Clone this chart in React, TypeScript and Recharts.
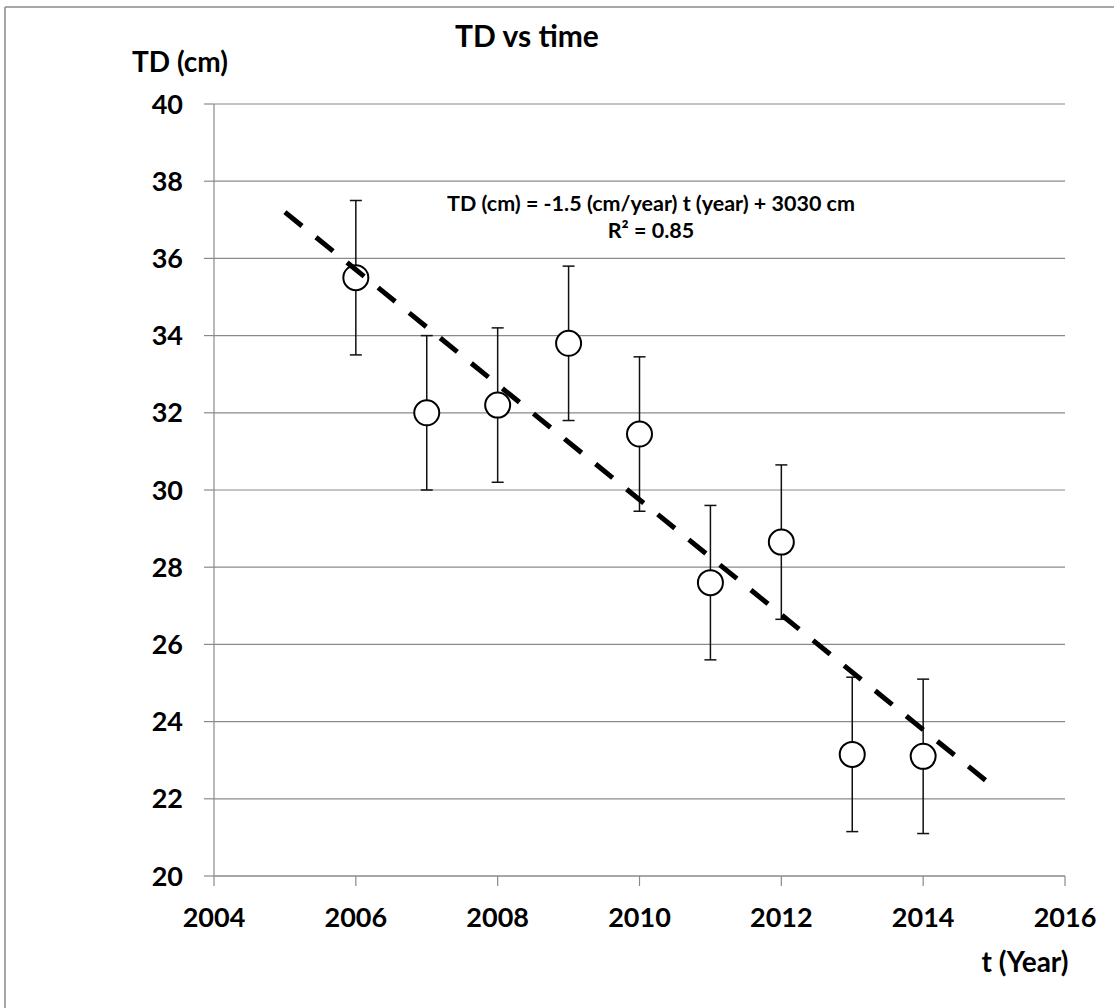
import React from "react"
import {
  ComposedChart,
  Scatter,
  ErrorBar,
  XAxis,
  YAxis,
  CartesianGrid,
} from "recharts"

const years = [2006, 2007, 2008, 2009, 2010, 2011, 2012, 2013, 2014]
const td = [35.5, 32.0, 32.2, 33.8, 31.45, 27.6, 28.65, 23.15, 23.1]
const tdErr = [2, 2, 2, 2, 2, 2, 2, 2, 2]

// linear fit drawn from 2005 to 2015
const fitYears = [2005, 2015]
const fitTd = [37.2, 22.3]

const xTicks = [2004, 2006, 2008, 2010, 2012, 2014, 2016]
const yTicks = [20, 22, 24, 26, 28, 30, 32, 34, 36, 38, 40]

const points = years.map((year, i) => ({ year, td: td[i], err: tdErr[i] }))
const fit = fitYears.map((year, i) => ({ year, td: fitTd[i] }))

const W = 1114
const H = 1008
const font = "Lato, 'Open Sans', sans-serif"
const gray = "#8a8a8a"

const Circle = (props: any) => {
  const { cx, cy } = props
  if (cx == null || cy == null) return null
  return <circle cx={cx} cy={cy} r={12.5} fill="#fff" stroke="#000" strokeWidth={2} />
}

export default function App() {
  const tickStyle = { fontFamily: font, fontSize: 27, fontWeight: 700, fill: "#000" }
  return (
    <div style={{ position: "absolute", left: 0, top: 0, width: W, height: H, background: "#fff" }}>
      <ComposedChart
        width={W}
        height={H}
        data={points}
        margin={{ top: 104, right: 49, bottom: 0, left: 0 }}
      >
        <CartesianGrid vertical={false} stroke={gray} strokeWidth={1.2} />
        <XAxis
          type="number"
          dataKey="year"
          domain={[2004, 2016]}
          ticks={xTicks}
          allowDataOverflow
          stroke={gray}
          strokeWidth={1.2}
          tickSize={10}
          tickMargin={22}
          height={132}
          tick={tickStyle}
        />
        <YAxis
          type="number"
          dataKey="td"
          domain={[20, 40]}
          ticks={yTicks}
          allowDataOverflow
          stroke={gray}
          strokeWidth={1.2}
          tickSize={10}
          tickMargin={21}
          width={214}
          tick={tickStyle}
        />
        <Scatter data={points} dataKey="td" shape={<Circle />} isAnimationActive={false}>
          <ErrorBar dataKey="err" direction="y" width={6} stroke="#111" strokeWidth={1.5} />
        </Scatter>
        <Scatter
          data={fit}
          dataKey="td"
          shape={() => null}
          line={{ stroke: "#000", strokeWidth: 5, strokeDasharray: "22 18" }}
          isAnimationActive={false}
        />
      </ComposedChart>
      <svg
        width={W}
        height={H}
        style={{ position: "absolute", left: 0, top: 0, pointerEvents: "none" }}
        fontFamily={font}
        fontWeight={700}
      >
        <line x1={5} y1={7} x2={W} y2={7} stroke={gray} strokeWidth={1.5} />
        <line x1={5} y1={7} x2={5} y2={H} stroke={gray} strokeWidth={1.5} />
        <text x={527} y={47} fontSize={30} textAnchor="middle">TD vs time</text>
        <text x={180} y={72} fontSize={28} textAnchor="middle">TD (cm)</text>
        <text x={651} y={211} fontSize={21.5} textAnchor="middle">
          TD (cm) = -1.5 (cm/year) t (year) + 3030 cm
        </text>
        <text x={651} y={238} fontSize={21.5} textAnchor="middle">R² = 0.85</text>
        <text x={1025} y={972} fontSize={28} textAnchor="middle">t (Year)</text>
      </svg>
    </div>
  )
}
